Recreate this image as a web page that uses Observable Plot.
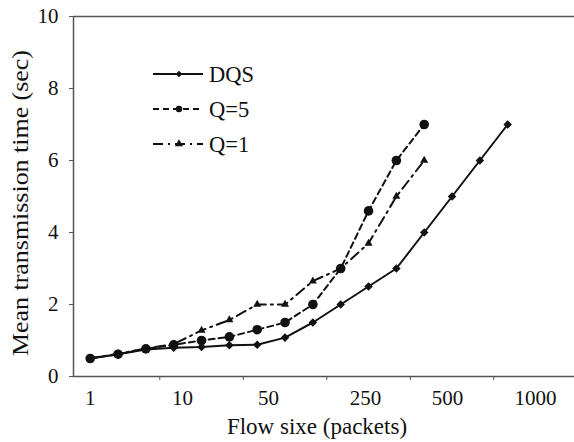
<!DOCTYPE html>
<html><head><meta charset="utf-8">
<script src="https://cdn.jsdelivr.net/npm/d3@7"></script>
<script src="https://cdn.jsdelivr.net/npm/@observablehq/plot@0.6"></script>
<style>
html,body{margin:0;padding:0;background:#fff;}
#chart{position:relative;width:574px;height:442px;overflow:hidden;}
</style></head><body><div id="chart"></div>
<script>
// ---- data ----
const seriesNames = ["DQS", "Q=5", "Q=1"];
const dqsValues = [0.5, 0.62, 0.75, 0.8, 0.82, 0.87, 0.88, 1.08, 1.5, 2.0, 2.5, 3.0, 4.0, 5.0, 6.0, 7.0];
const q5Values  = [0.5, 0.62, 0.77, 0.88, 1.0, 1.1, 1.3, 1.5, 2.0, 3.0, 4.6, 6.0, 7.0];
const q1Values  = [0.5, 0.63, 0.78, 0.9, 1.28, 1.57, 2.0, 2.0, 2.65, 3.0, 3.7, 5.0, 6.0];
const xTickLabels = ["1", "10", "50", "250", "500", "1000"];
const xTickLabelAt = [0, 3.32, 6.41, 9.89, 12.84, 16.0];   // category index under each label
const xTickMarksAt = [2.5, 5.5, 8.5, 11.5, 14.5];          // category boundaries with tick marks
const yTicks = [0, 2, 4, 6, 8, 10];
const xTitle = "Flow sixe (packets)";
const yTitle = "Mean transmission time (sec)";

// ---- styles ----
const seriesStyle = {
  "DQS": {dash: null,        symbol: "square",   rotate: 45, r: 3.4, lr: 2.6},
  "Q=5": {dash: "6,4",       symbol: "circle",   rotate: 0,  r: 4.8, lr: 3.2},
  "Q=1": {dash: "10,5,2,5",  symbol: "triangle", rotate: 0,  r: 3.0, lr: 3.0}
};
const ink = "#111";
const axisInk = "#555";
const font = "'Liberation Serif','Times New Roman',serif";

const allSeries = [dqsValues, q5Values, q1Values].map((vals, s) =>
  vals.map((v, i) => ({series: seriesNames[s], i, v})));

const marks = [];
marks.push(Plot.ruleY([10], {stroke: axisInk, strokeWidth: 1.5}));
marks.push(Plot.ruleX([17.4], {stroke: "#ccc", strokeWidth: 1}));
allSeries.forEach(data => {
  const st = seriesStyle[data[0].series];
  marks.push(Plot.lineY(data, {x: "i", y: "v", stroke: ink, strokeWidth: 2,
    strokeDasharray: st.dash || undefined}));
});
allSeries.forEach(data => {
  const st = seriesStyle[data[0].series];
  marks.push(Plot.dot(data, {x: "i", y: "v", symbol: st.symbol, r: st.r, rotate: st.rotate,
    fill: ink, stroke: "none"}));
});
marks.push(Plot.ruleY([0], {stroke: axisInk, strokeWidth: 1.5}));
marks.push(Plot.ruleX([-0.6], {stroke: axisInk, strokeWidth: 1.5}));
marks.push(Plot.axisY({ticks: yTicks, tickSize: 4, tickPadding: 11, fontSize: 21,
  label: null, stroke: axisInk, fill: ink}));
marks.push(Plot.axisX({ticks: xTickMarksAt, tickSize: 4, tickFormat: () => "",
  label: null, stroke: axisInk}));
marks.push(Plot.axisX({ticks: xTickLabelAt, tickSize: 0, tickPadding: 14, fontSize: 21,
  label: null, fill: ink, tickFormat: d => xTickLabels[xTickLabelAt.indexOf(d)]}));

const chart = Plot.plot({
  width: 574, height: 442,
  marginLeft: 73, marginRight: 0, marginTop: 16, marginBottom: 66,
  style: {fontFamily: font, background: "#fff", color: ink, overflow: "visible"},
  x: {type: "linear", domain: [-0.6, 17.4]},
  y: {type: "linear", domain: [0, 10]},
  marks
});
document.getElementById("chart").appendChild(chart);

// ---- axis titles and legend ----
const svg = d3.select(chart);
svg.append("text").attr("x", 317).attr("y", 434).attr("text-anchor", "middle")
  .attr("font-family", font).attr("font-size", 23).attr("fill", ink).text(xTitle);
svg.append("text").attr("transform", "translate(28,203) rotate(-90)").attr("text-anchor", "middle")
  .attr("font-family", font).attr("font-size", 23).attr("fill", ink)
  .attr("textLength", 306).attr("lengthAdjust", "spacingAndGlyphs").text(yTitle);

const legend = svg.append("g");
seriesNames.forEach((name, k) => {
  const st = seriesStyle[name];
  const y = 74 + 35 * k;
  legend.append("line").attr("x1", 153).attr("x2", 203).attr("y1", y).attr("y2", y)
    .attr("stroke", ink).attr("stroke-width", 2)
    .attr("stroke-dasharray", st.dash || null);
  const sym = {square: d3.symbolSquare, circle: d3.symbolCircle, triangle: d3.symbolTriangle}[st.symbol];
  legend.append("path").attr("d", d3.symbol(sym, Math.PI * st.lr * st.lr)())
    .attr("transform", `translate(179,${y}) rotate(${st.rotate})`).attr("fill", ink);
  legend.append("text").attr("x", 209).attr("y", y + 8).attr("text-anchor", "start")
    .attr("font-family", font).attr("font-size", 22.5).attr("fill", ink).text(name);
});
</script></body></html>
